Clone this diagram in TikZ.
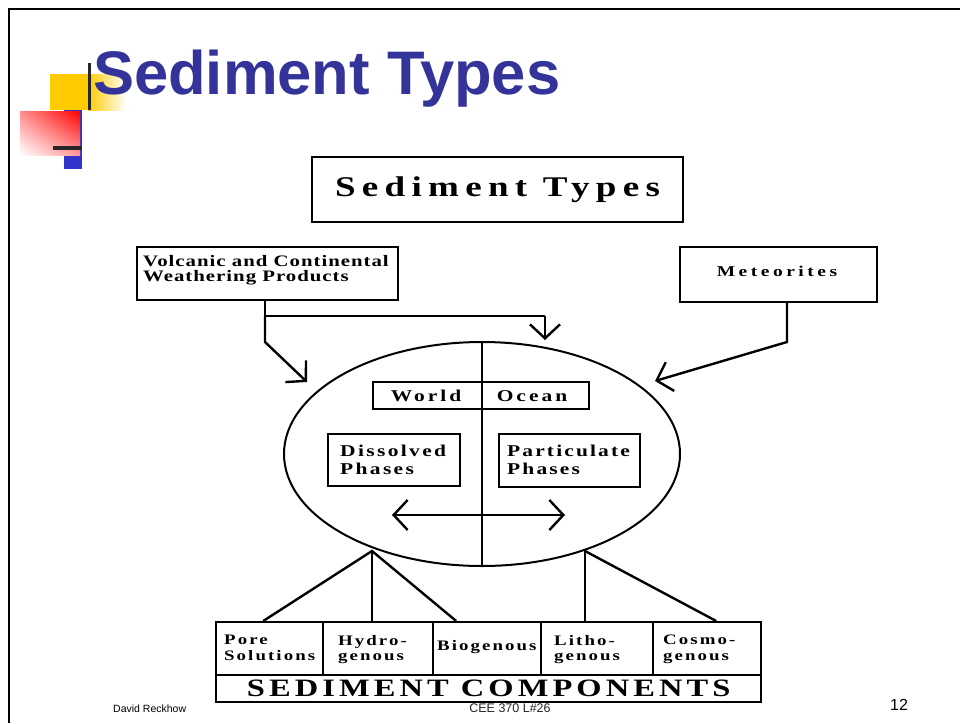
\documentclass[tikz,border=0pt]{standalone}
\usepackage{fontspec}
\usepackage{graphicx}
\setmainfont{Liberation Serif}
\newfontfamily\titlefont{Liberation Sans}
\newfontfamily\footfont{Liberation Sans}
\usetikzlibrary{shapes.geometric,arrows.meta,shadings}
\definecolor{titleblue}{RGB}{51,51,153}
\definecolor{decoyellow}{RGB}{255,204,0}
\definecolor{decoblue}{RGB}{51,51,204}
\newcommand\lsp[1]{\addfontfeature{LetterSpace=#1}}
\newcommand\fsz[2]{\fontsize{#1}{#2}\selectfont}
\newcommand\sx{1.3}
\newcommand\wide[1]{\scalebox{\sx}[1]{#1}}
\newcommand\twol[2]{\scalebox{\sx}[1]{\vbox{\hbox{#1}\hbox{#2}}}}
\begin{document}
\begin{tikzpicture}[x=1pt,y=-1pt,
  box/.style={draw, line width=2.4pt, inner sep=0pt},
  txt/.style={inner sep=0pt},
  conn/.style={line width=2.4pt},
  barb/.style={-{Straight Barb[length=14pt,width=30pt]}},
  dbarb/.style={{Straight Barb[length=14pt,width=30pt]}-{Straight Barb[length=14pt,width=30pt]}},
  cellfont/.style={font=\bfseries\fsz{14.5}{15.5}\lsp{11}}
]
\useasboundingbox (0,0) rectangle (960,723);
\fill[white] (0,0) rectangle (960,723);

% slide decorations
\fill[decoyellow] (50,74) rectangle (88,110);
\shade[left color=decoyellow, right color=white] (88,74) rectangle (126,110);
\fill[decoblue] (64,110) rectangle (82,169);
\shade[upper right=red, upper left=red!45, lower left=white, lower right=red!40] (20,111) rectangle (80,155);
\fill[black!85] (87.5,63) rectangle (91,110);
\fill[black!85] (53,146) rectangle (82,149.5);
\draw[line width=2.2pt] (9,723) -- (9,9) -- (960,9);

% title
\node[anchor=base west, inner sep=0pt, text=titleblue, font=\titlefont\bfseries\fsz{61.5}{62}] (title) at (93,94) {Sediment Types};

% diagram heading
\node[box, minimum width=371, minimum height=65, font=\bfseries\fsz{28.5}{30}\lsp{17}] (st) at (497.5,189.5) {\wide{Sediment Types}};

% sources
\node[box, minimum width=261, minimum height=53] (vol) at (267.5,273.5) {};
\node[txt, anchor=north west, font=\bfseries\fsz{16}{15}\lsp{4.8}] (voltxt) at (143,255) {\twol{Volcanic and Continental}{Weathering Products}};
\node[box, minimum width=197, minimum height=55] (met) at (778.5,274.5) {};
\node[txt, font=\bfseries\fsz{15}{15}\lsp{18}] (mettxt) at (777,271.5) {\wide{Meteorites}};

% ocean ellipse
\node[draw, ellipse, line width=2pt, minimum width=396, minimum height=224, inner sep=0pt] (ocean) at (482,454) {};
\draw[conn] (ocean.north) -- (ocean.south);

\node[box, minimum width=216, minimum height=27] (wo) at (481,395.5) {};
\node[txt, font=\bfseries\fsz{16.5}{17}\lsp{14}] (world) at (426,396) {\wide{World}};
\node[txt, font=\bfseries\fsz{16.5}{17}\lsp{14}] (oceantxt) at (532,396) {\wide{Ocean}};

\node[box, minimum width=132, minimum height=52] (dis) at (394,460) {};
\node[txt, anchor=north west, font=\bfseries\fsz{16.5}{18}\lsp{11}] (distxt) at (340,445) {\twol{Dissolved}{Phases}};
\node[box, minimum width=141, minimum height=53] (par) at (569.5,460.5) {};
\node[txt, anchor=north west, font=\bfseries\fsz{16.5}{18}\lsp{10}] (partxt) at (507,445) {\twol{Particulate}{Phases}};

\coordinate (dl) at (392,515);
\coordinate (dr) at (565,515);
\draw[conn, dbarb] (dl) -- (dr);

% source connectors
\coordinate (v1) at (265,316);
\coordinate (v2) at (265,342);
\coordinate (h1) at (545,316);
\coordinate (ah1) at (545,340);
\coordinate (ah2) at (307,382);
\coordinate (m1) at (787,342);
\coordinate (ah3) at (655,381);
\draw[conn] (vol.south -| v1) -- (v1) -- (h1);
\draw[conn, barb] (h1) -- (ah1);
\draw[conn, barb] (v1) -- (v2) -- (ah2);
\draw[conn, barb] (met.south -| m1) -- (m1) -- (ah3);

% components table
\node[box, anchor=north west, minimum width=107, minimum height=53] (c1) at (215,621) {};
\node[box, anchor=north west, minimum width=110, minimum height=53] (c2) at (322,621) {};
\node[box, anchor=north west, minimum width=108, minimum height=53] (c3) at (432,621) {};
\node[box, anchor=north west, minimum width=112, minimum height=53] (c4) at (540,621) {};
\node[box, anchor=north west, minimum width=108, minimum height=53] (c5) at (652,621) {};
\node[box, anchor=north west, minimum width=545, minimum height=27, font=\bfseries\fsz{25}{26}\lsp{12.5}] (sc) at (215,674) {\wide{SEDIMENT COMPONENTS}};

\node[txt, cellfont, anchor=north west] (t1) at (224,635) {\twol{Pore}{Solutions}};
\node[txt, cellfont, anchor=north west] (t2) at (338,635) {\twol{Hydro-}{genous}};
\node[txt, cellfont, anchor=west] (t3) at (437,647) {\wide{Biogenous}};
\node[txt, cellfont, anchor=north west] (t4) at (554,635) {\twol{Litho-}{genous}};
\node[txt, cellfont, anchor=north west] (t5) at (663,635) {\twol{Cosmo-}{genous}};

\coordinate (jl) at (372,551);
\coordinate (jr) at (585,551);
\draw[conn] ([xshift=-6.5pt]c1.north) -- (jl) -- ([xshift=-31pt]c3.north);
\draw[conn] (jl) -- (c2.north -| jl);
\draw[conn] (jr) -- (c4.north -| jr);
\draw[conn] (jr) -- ([xshift=9pt]c5.north);

% footer
\node[anchor=base west, inner sep=0pt, font=\footfont\fsz{10.5}{12}] (auth) at (113,712) {David Reckhow};
\node[anchor=base, inner sep=0pt, font=\footfont\fsz{12.5}{14}, text=black!85] (course) at (510,712) {CEE 370 L\#26};
\node[anchor=base, inner sep=0pt, font=\footfont\fsz{16}{18}] (page) at (899,710) {12};
\end{tikzpicture}
\end{document}
